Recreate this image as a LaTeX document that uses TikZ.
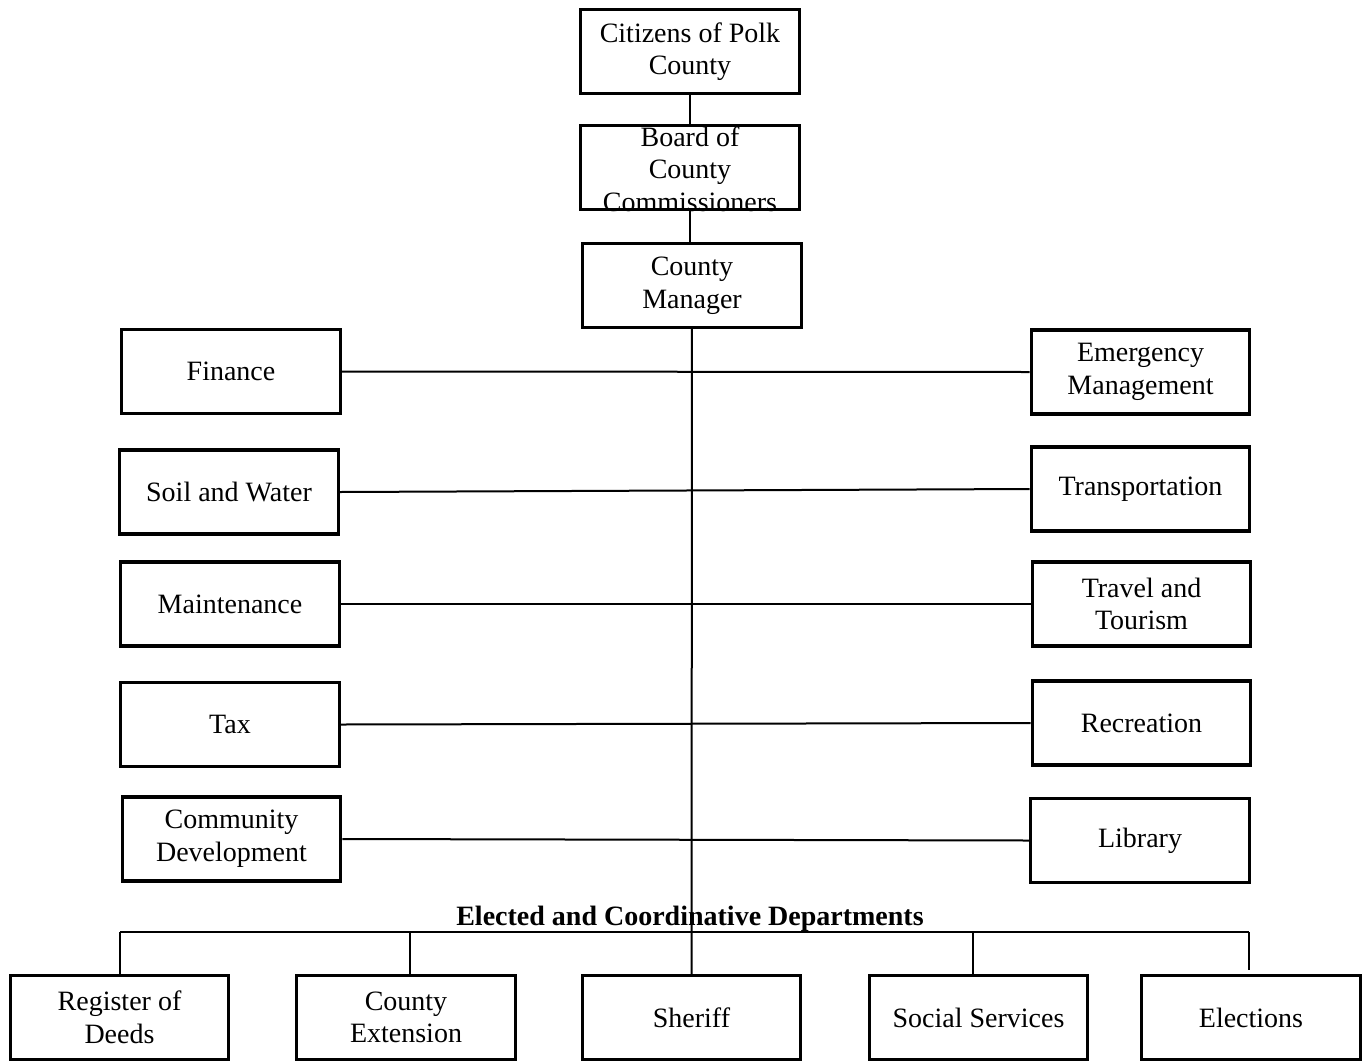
\documentclass[tikz,border=0pt]{standalone}
\usepackage{fontspec}
\setmainfont{Liberation Serif}
\begin{document}
\begin{tikzpicture}[x=0.75pt,y=-0.75pt,
    box/.style={draw,line width=2.3pt,minimum width=164pt,minimum height=63pt,inner sep=0pt,align=center,font=\fontsize{21}{24.5}\selectfont},
    word/.style={inner sep=0pt,align=center,font=\fontsize{21}{24.5}\selectfont},
    link/.style={line width=1.5pt}]
  \useasboundingbox (0,0) rectangle (1362,1060);
  % top of the chart
  \node [box] (cit) at (690,51.5) {Citizens of Polk\\County};
  \node [box] (board) at (690,167.5) {};
  \node [word] (boardtxt) at (690,169) {Board of\\County\\Commissioners};
  \node [box] (mgr) at (692,285.5) {County\\Manager};
  % departments on the left and right
  \node [box] (fin) at (231,371.5) {Finance};
  \node [box] (soil) at (229,492) {Soil and Water};
  \node [box] (maint) at (230,604) {Maintenance};
  \node [box] (tax) at (230,724.5) {Tax};
  \node [box] (comm) at (231.5,839) {Community\\Development};
  \node [box] (emg) at (1140.5,372) {Emergency\\Management};
  \node [box] (trans) at (1140.5,489) {Transportation};
  \node [box] (trav) at (1141.5,604) {Travel and\\Tourism};
  \node [box] (rec) at (1141.5,723) {Recreation};
  \node [box] (lib) at (1140,840.5) {Library};
  % elected row
  \node [word,font=\fontsize{21}{24.5}\selectfont\bfseries] (elect) at (690,919) {Elected and Coordinative Departments};
  \node [box] (reg) at (119.5,1017.5) {Register of\\Deeds};
  \node [box] (ext) at (406,1017.5) {County\\Extension};
  \node [box] (sher) at (691.5,1017.5) {Sheriff};
  \node [box] (soc) at (978.5,1017.5) {Social Services};
  \node [box] (elec) at (1251,1017.5) {Elections};
  \coordinate (busL) at (120,932);
  \coordinate (busR) at (1249,932);
  % connectors
  \draw [link] (cit) -- (board);
  \draw [link] (board) -- (board |- mgr.north);
  \draw [link] (mgr) -- (sher);
  \foreach \l/\r in {fin/emg,soil/trans,maint/trav,tax/rec,comm/lib}
    \draw [link] (\l.east) -- (\r.west);
  \draw [link] (busL) -- (busR);
  \draw [link] (busL) -- (reg.north -| busL);
  \draw [link] (410,932) -- (410,976);
  \draw [link] (973,932) -- (973,976);
  \draw [link] (busR) -- ([yshift=3pt]elec.north -| busR);
\end{tikzpicture}
\end{document}
